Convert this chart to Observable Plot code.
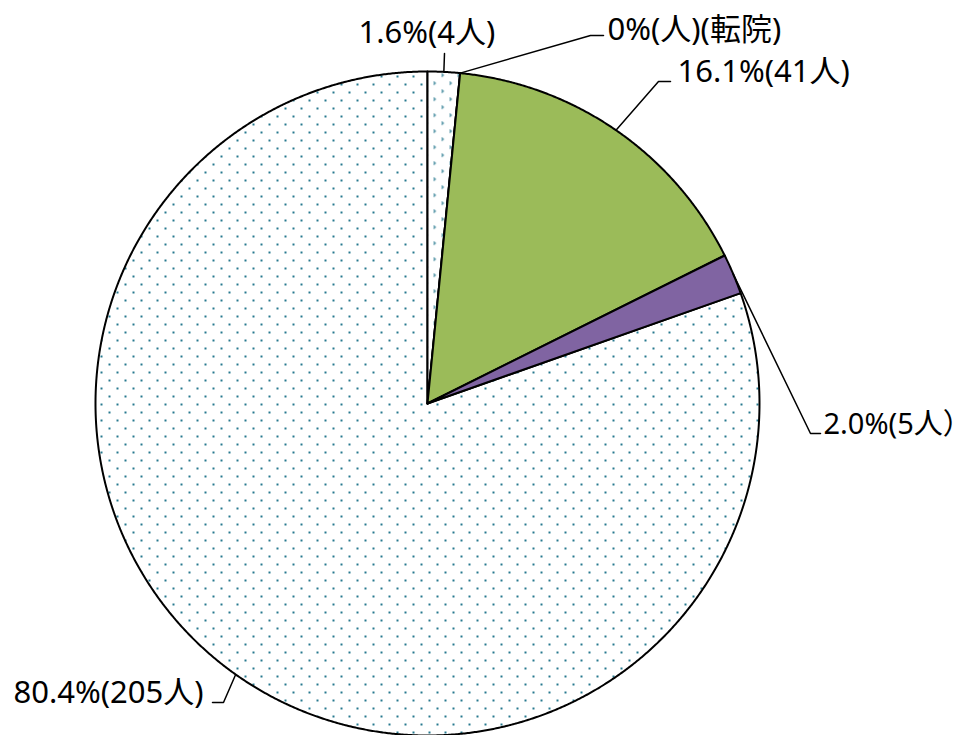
<!DOCTYPE html>
<html><head><meta charset="utf-8">
<script src="https://cdn.jsdelivr.net/npm/d3@7"></script>
<script src="https://cdn.jsdelivr.net/npm/@observablehq/plot@0.6"></script>
<style>body{margin:0;background:#fff;}</style>
</head><body><div id="chart"></div>
<script>
// ---- data ----
const labels = ["1.6%(4人)", "0%(人)(転院)", "16.1%(41人)", "2.0%(5人）", "80.4%(205人)"];
const counts = [4, 0, 41, 5, 205];

// ---- style / layout (pixels) ----
const fills = ["url(#dense)", "none", "#9BBB59", "#8064A2", "url(#dots)"];
const W = 977, H = 735, CX = 427, CY = 403, R = 332;
const labelPos = [[358, 33], [607, 30], [677, 72], [823, 424], [13, 693]];
const labelSize = [31, 31, 31, 29, 31];
const leaderElbows = [
  [[444, 53]],
  [[590, 35], [603, 35]],
  [[658, 81], [670, 81]],
  [[810, 433], [820, 433]],
  [[223, 702], [212, 702]]
];

const toX = px => (px - CX) / R, toY = py => (CY - py) / R;
const total = d3.sum(counts);
const slicePts = [], leaderPts = [], labelRows = [];
let cum = 0;
counts.forEach((c, i) => {
  const a0 = cum / total * 2 * Math.PI, a1 = (cum + c) / total * 2 * Math.PI;
  cum += c;
  const n = Math.max(2, Math.ceil((a1 - a0) / (Math.PI / 720)));
  slicePts.push({slice: i, x: 0, y: 0});
  for (let k = 0; k <= n; k++) {
    const a = a0 + (a1 - a0) * k / n;
    slicePts.push({slice: i, x: Math.sin(a), y: Math.cos(a)});
  }
  slicePts.push({slice: i, x: 0, y: 0});
  const am = (a0 + a1) / 2;
  leaderPts.push({leader: i, x: Math.sin(am), y: Math.cos(am)});
  leaderElbows[i].forEach(([px, py]) => leaderPts.push({leader: i, x: toX(px), y: toY(py)}));
  labelRows.push({text: labels[i], x: toX(labelPos[i][0]), y: toY(labelPos[i][1]), size: labelSize[i]});
});
// draw the big slice first so smaller ones sit on top
const order = [4, 0, 1, 2, 3];
const orderedPts = order.flatMap(i => slicePts.filter(d => d.slice === i));

const chart = Plot.plot({
  width: W, height: H, margin: 0,
  style: {background: "white", fontFamily: "'Noto Sans', 'Noto Sans CJK JP', sans-serif"},
  x: {domain: [toX(0), toX(W)], axis: null},
  y: {domain: [toY(H), toY(0)], axis: null},
  color: {type: "ordinal", domain: d3.range(counts.length), range: fills},
  marks: [
    Plot.line(orderedPts, {x: "x", y: "y", z: "slice", fill: "slice", stroke: "black", strokeWidth: 2, strokeLinejoin: "round", curve: "linear"}),
    Plot.line(leaderPts, {x: "x", y: "y", z: "leader", stroke: "black", strokeWidth: 1.5, curve: "linear"}),
    Plot.text(labelRows, {x: "x", y: "y", text: "text", textAnchor: "start", lineAnchor: "middle", fontSize: "size", fill: "black"})
  ]
});

// patterns
const defs = d3.select(chart).insert("defs", ":first-child");
const dots = defs.append("pattern").attr("id", "dots").attr("patternUnits", "userSpaceOnUse")
  .attr("width", 16).attr("height", 16);
dots.append("rect").attr("width", 16).attr("height", 16).attr("fill", "white");
[[12, 11], [4, 3]].forEach(([x, y]) => dots.append("rect").attr("x", x).attr("y", y).attr("width", 2).attr("height", 2).attr("fill", "#27798F"));
const dense = defs.append("pattern").attr("id", "dense").attr("patternUnits", "userSpaceOnUse")
  .attr("width", 16).attr("height", 16);
dense.append("rect").attr("width", 16).attr("height", 16).attr("fill", "white");
[[1, 1], [9, 9]].forEach(([x, y]) => {
  [[0, 0], [1, 1], [0, 2]].forEach(([dx, dy]) =>
    dense.append("rect").attr("x", x + dx).attr("y", y + dy).attr("width", 1.3).attr("height", 1.3).attr("fill", "#27798F"));
});
document.getElementById("chart").appendChild(chart);
</script>
</body></html>
